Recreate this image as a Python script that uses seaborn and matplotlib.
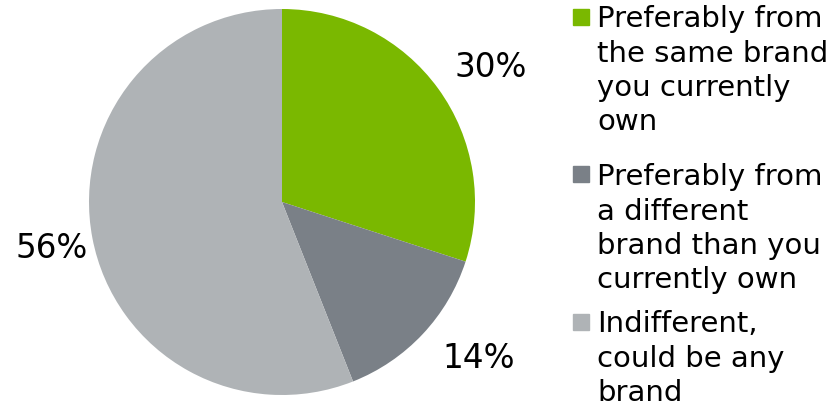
import matplotlib
matplotlib.use("Agg")
import matplotlib.pyplot as plt
import seaborn as sns
import numpy as np
from matplotlib.patches import Rectangle

sns.set_theme(style="white")
plt.rcParams['font.family'] = ['DejaVu Sans']

categories = ["Preferably from\nthe same brand\nyou currently\nown",
              "Preferably from\na different\nbrand than you\ncurrently own",
              "Indifferent,\ncould be any\nbrand"]
values = [30, 14, 56]
colors = sns.color_palette(["#7AB800", "#7A8087", "#AFB3B6"])

W, H = 840, 406
fig = plt.figure(figsize=(W / 100, H / 100), dpi=100)
cx, cy, r = 282, 203, 193
ax = fig.add_axes([(cx - r) / W, (H - cy - r) / H, 2 * r / W, 2 * r / H])
wedges, texts, autotexts = ax.pie(values, colors=colors, startangle=90, counterclock=False,
                                  radius=1, autopct=lambda p: f"{p:.0f}%", pctdistance=1.27,
                                  wedgeprops=dict(linewidth=0),
                                  textprops=dict(fontsize=23.5, color="black"))
# fine placement of percentage labels (layout tweak relative to each wedge's mid-angle)
label_dist = [1.29, 1.30, 1.215]
angle_shift = [-3.0, 5.0, 0.3]
for w, t, d, s in zip(wedges, autotexts, label_dist, angle_shift):
    ang = np.deg2rad((w.theta1 + w.theta2) / 2 + s)
    t.set_position((d * np.cos(ang), d * np.sin(ang)))
ax.set_xlim(-1, 1)
ax.set_ylim(-1, 1)
ax.set_aspect("equal")
ax.axis("off")

# legend drawn manually
fs = 21
line_h = 34
square_tops = [10, 167, 315]
first_baselines = [27, 185, 332]
for lab, col, sq, bl in zip(categories, colors, square_tops, first_baselines):
    fig.patches.append(Rectangle((573 / W, (H - sq - 16) / H), 16 / W, 16 / H,
                                 transform=fig.transFigure, color=col))
    for i, line in enumerate(lab.split("\n")):
        fig.text(597 / W, (H - (bl + i * line_h + (1 if i else 0))) / H, line, fontsize=fs,
                 va="baseline", ha="left", color="black")

fig.savefig("out.png", dpi=100)
